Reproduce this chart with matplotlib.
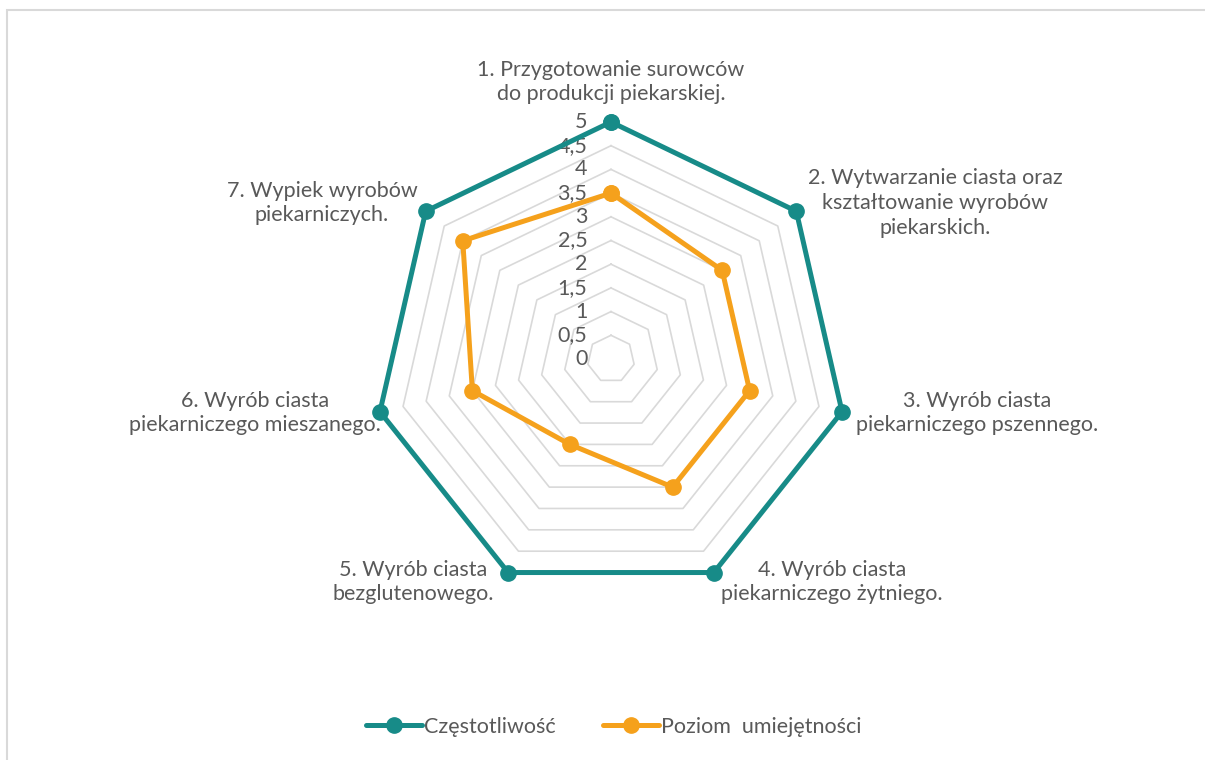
import numpy as np
import matplotlib.pyplot as plt
from matplotlib.patches import Rectangle

plt.rcParams['font.family'] = ['Lato', 'DejaVu Sans']

categories = [
    '1. Przygotowanie surowców\ndo produkcji piekarskiej.',
    '2. Wytwarzanie ciasta oraz\nkształtowanie wyrobów\npiekarskich.',
    '3. Wyrób ciasta\npiekarniczego pszennego.',
    '4. Wyrób ciasta\npiekarniczego żytniego.',
    '5. Wyrób ciasta\nbezglutenowego.',
    '6. Wyrób ciasta\npiekarniczego mieszanego.',
    '7. Wypiek wyrobów\npiekarniczych.',
]
czestotliwosc = [5, 5, 5, 5, 5, 5, 5]
umiejetnosci = [3.5, 3, 3, 3, 2, 3, 4]
ring_values = [0, 0.5, 1, 1.5, 2, 2.5, 3, 3.5, 4, 4.5, 5]
ring_labels = ['0', '0,5', '1', '1,5', '2', '2,5', '3', '3,5', '4', '4,5', '5']

# pixel centres of the category labels (figure 1205x760)
label_pos = [(611, 82), (935, 203), (977, 413), (832, 582),
             (413, 582), (255, 413), (322, 203)]

TEAL = '#178b88'
ORANGE = '#f5a11c'
TXT = '#595959'
GRID = '#d9d9d9'
FS = 15.5

W, H = 1205, 760
fig = plt.figure(figsize=(W / 100, H / 100), dpi=100)

cx, cy, R = 611, 359, 237
ax = fig.add_axes([(cx - R) / W, (H - cy - R) / H, 2 * R / W, 2 * R / H],
                  projection='polar')
ax.set_theta_zero_location('N')
ax.set_theta_direction(-1)
ax.set_ylim(0, 5)
ax.grid(False)
ax.spines['polar'].set_visible(False)
ax.set_xticks([])
ax.set_yticks([])
ax.patch.set_alpha(0)

n = len(categories)
theta = np.linspace(0, 2 * np.pi, n, endpoint=False)
theta_c = np.append(theta, theta[0])

for r in ring_values[1:]:
    ax.plot(theta_c, [r] * (n + 1), color=GRID, lw=1.2, zorder=1)

for r, lab in zip(ring_values, ring_labels):
    ax.annotate(lab, xy=(0, r), xytext=(-17, 0), textcoords='offset points',
                ha='right', va='center', fontsize=FS, color=TXT)

ax.plot(theta_c, czestotliwosc + czestotliwosc[:1], color=TEAL, lw=3.6,
        marker='o', ms=11, label='Częstotliwość', zorder=3, clip_on=False,
        solid_capstyle='round')
ax.plot(theta_c, umiejetnosci + umiejetnosci[:1], color=ORANGE, lw=3.6,
        marker='o', ms=11, label='Poziom  umiejętności', zorder=3, clip_on=False,
        solid_capstyle='round')

for lab, (px, py) in zip(categories, label_pos):
    fig.text(px / W, 1 - py / H, lab, ha='center', va='center', fontsize=FS,
             color=TXT, linespacing=1.3)

leg = fig.legend(loc='center', bbox_to_anchor=(614 / W, 1 - 727 / H), ncol=2,
                 frameon=False, fontsize=FS, handlelength=2.6, handletextpad=0.1,
                 columnspacing=2.2)
for t in leg.get_texts():
    t.set_color(TXT)

fig.patches.append(Rectangle((7 / W, -0.05), 1.1, 1.05 - 10 / H,
                             transform=fig.transFigure, fill=False,
                             edgecolor=GRID, lw=1.5))

fig.savefig('out.png', dpi=100)
